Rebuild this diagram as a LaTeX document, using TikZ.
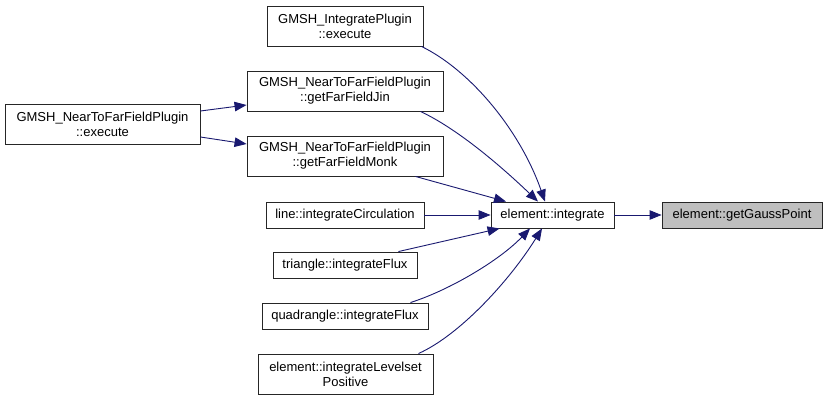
\documentclass[tikz,border=0pt]{standalone}
\usepackage{fontspec}
\setmainfont{Liberation Sans}
\usetikzlibrary{arrows.meta}
\definecolor{edgeblue}{RGB}{25,25,112}
\definecolor{hlgray}{RGB}{191,191,191}
\tikzset{
  box/.style={draw=black!85, line width=0.9pt, fill=white, inner sep=0pt, align=center,
    font=\fontsize{13}{15}\selectfont},
  hlbox/.style={box, fill=hlgray},
  edge/.style={draw=edgeblue, line width=0.9pt, -{Triangle[length=12pt,width=9.5pt]}},
}
\begin{document}
\begin{tikzpicture}[x=1pt,y=-1pt]
\useasboundingbox[fill=white] (0,0) rectangle (828,401);
\node[hlbox, minimum width=160pt, minimum height=26pt] (gauss) at (742,215) {element::getGaussPoint};
\node[box, minimum width=123pt, minimum height=26pt] (integ) at (552.5,215) {element::integrate};
\node[box, minimum width=156pt, minimum height=40pt] (ip) at (345,26) {GMSH\_IntegratePlugin\\::execute};
\node[box, minimum width=196pt, minimum height=40pt] (jin) at (345,91) {GMSH\_NearToFarFieldPlugin\\::getFarFieldJin};
\node[box, minimum width=196pt, minimum height=40pt] (monk) at (345,156) {GMSH\_NearToFarFieldPlugin\\::getFarFieldMonk};
\node[box, minimum width=158pt, minimum height=26pt] (line) at (345,215) {line::integrateCirculation};
\node[box, minimum width=144pt, minimum height=26pt] (tri) at (345,265) {triangle::integrateFlux};
\node[box, minimum width=166pt, minimum height=26pt] (quad) at (345,316) {quadrangle::integrateFlux};
\node[box, minimum width=175pt, minimum height=40pt] (lvl) at (345.5,374) {element::integrateLevelset\\Positive};
\node[box, minimum width=195pt, minimum height=40pt] (nf) at (102.5,124) {GMSH\_NearToFarFieldPlugin\\::execute};

\draw[edge] (integ) -- (gauss);
\draw[edge] (line) -- (integ);
\draw[edge] ([xshift=-2pt]ip.south east) .. controls (470,70) and (520,130) .. ([xshift=-7.5pt]integ.north);
\draw[edge] ([xshift=-23pt]jin.south east) .. controls (460,130) and (505,170) .. ([xshift=-14.5pt]integ.north);
\draw[edge] ([xshift=-28pt]monk.south east) -- ([xshift=-46.5pt]integ.north);
\draw[edge] ([xshift=-19pt]tri.north east) -- ([xshift=9pt]integ.south west);
\draw[edge] ([xshift=-18pt]quad.north east) .. controls (450,290) and (500,260) .. ([xshift=-22.5pt]integ.south);
\draw[edge] ([xshift=-15pt]lvl.north east) .. controls (460,335) and (510,280) .. ([xshift=-10.5pt]integ.south);
\draw[edge] ([yshift=13pt]nf.east) -- ([yshift=-14pt]jin.west);
\draw[edge] ([yshift=-13pt]nf.east) -- ([yshift=12pt]monk.west);
\end{tikzpicture}
\end{document}
